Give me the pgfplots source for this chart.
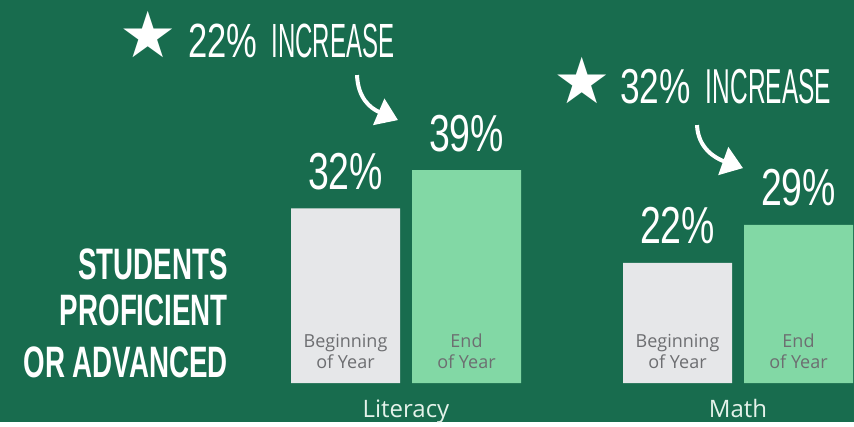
\documentclass[border=0pt]{standalone}
\usepackage{pgfplots}
\pgfplotsset{compat=1.18}
\usepackage{fontspec}
\setmainfont{Open Sans}
\usetikzlibrary{arrows.meta}
\newfontfamily\numfont[FakeStretch=0.72]{Liberation Sans}
\newfontfamily\letfont[FakeStretch=0.5]{Liberation Sans}
\newfontfamily\headfont[FakeStretch=0.63]{Liberation Sans}
\newfontfamily\symfont{DejaVu Sans}
\definecolor{bg}{HTML}{186C4E}
\definecolor{bargray}{HTML}{E6E7E9}
\definecolor{bargreen}{HTML}{82D8A5}
\definecolor{intext}{HTML}{6D6E71}
\definecolor{cattext}{HTML}{E4F2EA}
\begin{document}
\begin{tikzpicture}
\fill[bg] (0,0) rectangle (854pt,422pt);
\begin{axis}[
  at={(0,0)}, anchor=south west,
  scale only axis, width=854pt, height=422pt,
  xmin=-1.22289, xmax=1.34940, ymin=-7.1429, ymax=70.147,
  axis line style={draw=none},
  ytick=\empty, xtick={0,1}, xticklabels={Literacy,Math},
  major tick length=0pt,
  xticklabel style={anchor=base, yshift=5pt, font=\fontsize{24}{24}\selectfont, text=cattext},
  clip=false,
  point meta=y,
  /pgf/number format/assume math mode=true,
]
\addplot[ybar, fill=bargray, draw=none, bar width=109pt, bar shift=-60.5pt,
  nodes near coords={\pgfmathprintnumber{\pgfplotspointmeta}\%},
  nodes near coords style={font=\numfont\fontsize{52}{52}\selectfont, text=white, anchor=base, xshift=-60.5pt, yshift=19pt, inner sep=0pt}]
  coordinates {(0,32) (1,22)};
\addplot[ybar, fill=bargreen, draw=none, bar width=109pt, bar shift=60.5pt,
  nodes near coords={\pgfmathprintnumber{\pgfplotspointmeta}\%},
  nodes near coords style={font=\numfont\fontsize{52}{52}\selectfont, text=white, anchor=base, xshift=60.5pt, yshift=19pt, inner sep=0pt}]
  coordinates {(0,39) (1,29)};
\end{axis}
\begin{scope}[x=1pt,y=-1pt,yshift=422pt]
  % stars
  \node[font=\symfont\fontsize{64}{64}\selectfont, text=white, inner sep=0pt] at (148,34) {★};
  \node[font=\symfont\fontsize{64}{64}\selectfont, text=white, inner sep=0pt] at (582,80) {★};
  % titles
  \node[anchor=base west, inner sep=0pt, text=white] at (188,57)
    {\fontsize{48}{48}\selectfont\numfont 22\%\hspace{14pt}\letfont INCREASE};
  \node[anchor=base west, inner sep=0pt, text=white] at (620,103)
    {\fontsize{49}{49}\selectfont\numfont 32\%\hspace{15pt}\letfont INCREASE};
  % arrows
  \draw[white, line width=4pt, -{Triangle[length=21pt,width=28pt]}]
    (357,75) .. controls (358,98) and (370,108) .. (398,120);
  \draw[white, line width=4pt, -{Triangle[length=21pt,width=29pt]}]
    (697,125) .. controls (698,148) and (715,158) .. (743,168);
  % headline
  \begin{scope}[every node/.style={anchor=base east, inner sep=0pt, text=white, font=\headfont\bfseries\fontsize{44}{44}\selectfont}]
    \node at (228,279) {STUDENTS};
    \node at (228,325) {PROFICIENT};
    \node at (228,377) {OR ADVANCED};
  \end{scope}
  % in-bar labels
  \begin{scope}[every node/.style={anchor=base, inner sep=0pt, text=intext, font=\fontsize{18}{18}\selectfont}]
    \node at (345.5,347) {Beginning};
    \node at (345.5,368) {of Year};
    \node at (466.5,347) {End};
    \node at (466.5,368) {of Year};
    \node at (677.5,347) {Beginning};
    \node at (677.5,368) {of Year};
    \node at (798.5,347) {End};
    \node at (798.5,368) {of Year};
  \end{scope}
\end{scope}
\end{tikzpicture}
\end{document}
